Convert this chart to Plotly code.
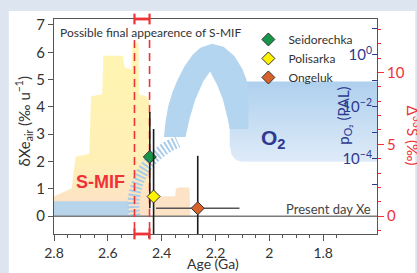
import plotly.graph_objects as go

# ---------------- data ----------------
SAMPLE_NAMES = ["Seidorechka", "Polisarka", "Ongeluk"]
SAMPLE_AGE_GA = [2.444, 2.430, 2.266]
SAMPLE_DXE = [2.17, 0.72, 0.29]
SAMPLE_DXE_ERR_PLUS = [1.64, 2.47, 1.92]
SAMPLE_DXE_ERR_MINUS = [1.88, 2.47, 1.92]
SAMPLE_AGE_ERR = [0.0, 0.0, 0.155]
SAMPLE_COLORS = ["#17964a", "#fff200", "#d8632a"]

SMIF_LAST_AGE = [2.501, 2.445]      # window of possible final S-MIF appearance
SMIF_DASH_TOP = 6.45                # dXe units

# S-MIF envelope (Age Ga, D33S permil)
SMIF_ENV_AGE = [2.800, 2.800, 2.734, 2.720, 2.669, 2.662, 2.621, 2.617, 2.545,
                2.537, 2.512, 2.508, 2.486, 2.484, 2.457, 2.447, 2.443, 2.443]
SMIF_ENV_D33S = [0.0, 1.38, 1.93, 4.14, 4.34, 8.34, 8.48, 11.17, 11.17,
                 10.34, 10.21, 12.07, 12.07, 8.48, 8.34, 8.00, 7.60, 0.0]
SMIF_TAIL_AGE = [2.432, 2.432, 2.424, 2.350, 2.347, 2.338, 2.297, 2.293]
SMIF_TAIL_D33S = [0.0, 1.10, 1.38, 1.38, 1.90, 2.00, 2.00, 0.0]

# Oxygen schematic (Age Ga, log10 pO2 PAL)
O2_LOW_AGE = [2.800, 2.523, 2.523, 2.800]
O2_LOW_LOG = [-6.21, -6.21, -5.64, -5.64]
O2_RISE_AGE = [2.5009, 2.5046, 2.5009, 2.4900, 2.4717, 2.4462, 2.4134, 2.3769, 2.3404]
O2_RISE_LOG = [-6.21, -5.79, -5.37, -4.95, -4.53, -4.15, -3.81, -3.54, -3.35]
O2_ARCH_AGE = [2.3915, 2.3860, 2.3760, 2.3600, 2.3404, 2.3150, 2.2850, 2.2565,
               2.2128, 2.1700, 2.1300, 2.1000, 2.0851, 2.0778, 2.0778,
               2.1471, 2.1544, 2.1727, 2.1945, 2.2201, 2.2456, 2.2748, 2.2967, 2.3113]
O2_ARCH_LOG = [-3.162, -2.60, -2.00, -1.45, -0.952, -0.45, 0.0, 0.267,
               0.419, 0.30, -0.05, -0.55, -0.952, -1.35, -2.857,
               -2.857, -2.476, -1.714, -1.143, -0.648, -1.029, -1.714, -2.476, -3.162]
O2_PLAT_AGE = [2.1471, 1.600, 1.600, 2.1034, 2.125, 2.140, 2.1471]
O2_PLAT_LOG = [-1.03, -1.03, -4.114, -4.114, -4.05, -3.85, -3.50]

PRESENT_DAY_XE = 0.0

X_RANGE = [2.8, 1.6]
DXE_RANGE = [-0.653, 7.218]
D33S_RANGE = [-1.241, 13.72]
LOGO2_RANGE = [-6.895, 1.371]
PO2_TICKVALS = [10, 1, 0.1, 0.01, 1e-3, 1e-4, 1e-5]
PO2_TICKTEXT = ["", "10<sup>0</sup>", "", "10<sup>\u22122</sup>", "", "10<sup>\u22124</sup>", ""]

# ---------------- styling ----------------
W, H = 417, 273
ML, MR, MT, MB = 54, 34, 19, 37
PW, PH = W - ML - MR, H - MT - MB
FONT = "Lato"
GREY = "#333333"
AX = "#555555"
RED = "#ee3338"
BLUE = "#2e3a8f"
LIGHTBLUE = "#b4d5ef"
FRAME = "#dde5f1"


def px(x):
    return (x - ML) / PW


def py(y):
    return (H - MB - y) / PH


fig = go.Figure()

grad = dict(type="vertical", start=0, stop=12.07,
            colorscale=[[0, "#fde0c8"], [0.14, "#fde5c2"], [0.32, "#fff0b6"], [1, "#fff5b0"]])

# S-MIF record (base axis y = D33S)
fig.add_trace(go.Scatter(x=SMIF_ENV_AGE, y=SMIF_ENV_D33S, mode="lines", fill="toself",
                         line=dict(width=0), fillgradient=grad, yaxis="y",
                         hoverinfo="skip", showlegend=False))
fig.add_trace(go.Scatter(x=SMIF_TAIL_AGE, y=SMIF_TAIL_D33S, mode="lines", fill="toself",
                         line=dict(width=0), fillcolor="#fde3c6", yaxis="y",
                         hoverinfo="skip", showlegend=False))

# Oxygen schematic (y2 = pO2 log axis)
fig.add_trace(go.Scatter(x=O2_PLAT_AGE, y=[10 ** v for v in O2_PLAT_LOG], mode="lines",
                         fill="toself", line=dict(width=0),
                         fillgradient=dict(type="vertical",
                                           colorscale=[[0, "#dfebf8"], [1, "#aed0ee"]]),
                         yaxis="y2", hoverinfo="skip", showlegend=False))
fig.add_trace(go.Scatter(x=O2_ARCH_AGE, y=[10 ** v for v in O2_ARCH_LOG], mode="lines",
                         fill="toself", line=dict(width=0), fillcolor=LIGHTBLUE,
                         yaxis="y2", hoverinfo="skip", showlegend=False))
fig.add_trace(go.Scatter(x=O2_LOW_AGE, y=[10 ** v for v in O2_LOW_LOG], mode="lines",
                         fill="toself", line=dict(width=0), fillcolor="#b7d4ea",
                         yaxis="y2", hoverinfo="skip", showlegend=False))
fig.add_trace(go.Scatter(x=O2_RISE_AGE, y=[10 ** v for v in O2_RISE_LOG], mode="lines",
                         line=dict(width=12, color="#abcce9", dash="2px,2px", shape="spline"),
                         yaxis="y2", hoverinfo="skip", showlegend=False))

# dXe layer (y3)
fig.add_trace(go.Scatter(x=X_RANGE, y=[PRESENT_DAY_XE, PRESENT_DAY_XE], mode="lines",
                         line=dict(color="#7a7a7a", width=1.5), yaxis="y3",
                         hoverinfo="skip", showlegend=False))
for a in SMIF_LAST_AGE:
    fig.add_trace(go.Scatter(x=[a, a], y=[SMIF_DASH_TOP, DXE_RANGE[0]], mode="lines",
                             line=dict(color=RED, width=1.6, dash="8px,5px"), yaxis="y3",
                             hoverinfo="skip", showlegend=False))

for i, name in enumerate(SAMPLE_NAMES):
    ex = None
    if SAMPLE_AGE_ERR[i] > 0:
        ex = dict(type="data", array=[SAMPLE_AGE_ERR[i]], color="#555555",
                  thickness=1.6, width=0)
    fig.add_trace(go.Scatter(
        x=[SAMPLE_AGE_GA[i]], y=[SAMPLE_DXE[i]], mode="markers", name=name, yaxis="y3",
        marker=dict(symbol="diamond", size=10, color=SAMPLE_COLORS[i],
                    line=dict(color="#333333", width=1)),
        error_y=dict(type="data", symmetric=False, array=[SAMPLE_DXE_ERR_PLUS[i]],
                     arrayminus=[SAMPLE_DXE_ERR_MINUS[i]], color="#1a1a1a",
                     thickness=1.6, width=0),
        error_x=ex, cliponaxis=True))

# white panel + red range bars on top and bottom axes
shapes = [dict(type="rect", xref="paper", yref="paper", x0=px(8), x1=px(W + 5),
               y0=py(H + 5), y1=py(11), fillcolor="white", line=dict(width=0), layer="below")]
for yp in (1.0, 0.0):
    shapes.append(dict(type="line", xref="x", yref="paper", x0=SMIF_LAST_AGE[0],
                       x1=SMIF_LAST_AGE[1], y0=yp, y1=yp, line=dict(color=RED, width=2.8)))
    for a in SMIF_LAST_AGE:
        shapes.append(dict(type="line", xref="x", yref="paper", x0=a, x1=a,
                           y0=yp - 0.025, y1=yp + 0.025, line=dict(color=RED, width=2.2)))

ann = [
    dict(text="Possible final appearence of S-MIF", x=px(58), y=py(33), xanchor="left",
         yanchor="middle", font=dict(size=12, color=GREY)),
    dict(text="<b>S-MIF</b>", x=px(101), y=py(184), font=dict(size=18, color=RED,
                                                             family="Liberation Sans")),
    dict(text="<b>O<sub>2</sub></b>", x=px(278), y=py(140),
         font=dict(size=21, color=BLUE, family="Liberation Sans")),
    dict(text="Present day Xe", x=px(379), y=py(211), xanchor="right", yanchor="middle",
         font=dict(size=13, color="#444444")),
    dict(text="p<sub>O\u2082</sub> (PAL)", x=px(349), y=py(117), textangle=-90,
         font=dict(size=15, color=BLUE)),
    dict(text="\u0394<sup>33</sup>S (\u2030)", x=px(420), y=py(137), textangle=90,
         font=dict(size=15, color=RED)),
    dict(text="\u03b4Xe<sub>air</sub> (\u2030 u<sup>\u22121</sup>)", x=px(23), y=py(122),
         textangle=-90, font=dict(size=15, color=GREY)),
    dict(text="Age (Ga)", x=px(216), y=py(266), font=dict(size=14, color=GREY)),
]
for a in ann:
    a.setdefault("xanchor", "center")
    a.setdefault("yanchor", "middle")
    a.update(xref="paper", yref="paper", showarrow=False)

fig.update_layout(
    width=W, height=H, margin=dict(l=ML, r=MR, t=MT, b=MB),
    paper_bgcolor=FRAME, plot_bgcolor="rgba(0,0,0,0)",
    font=dict(family=FONT, color=GREY),
    shapes=shapes, annotations=ann,
    xaxis=dict(range=X_RANGE, tick0=1.6, dtick=0.2, ticks="outside", ticklen=6,
               tickcolor=AX, showline=True, linecolor=AX, mirror=True, showgrid=False,
               zeroline=False, tickfont=dict(size=14, color=GREY),
               minor=dict(dtick=0.05, ticks="outside", ticklen=3, tickcolor=AX)),
    yaxis=dict(range=D33S_RANGE, side="right", anchor="x", tick0=0, dtick=5,
               ticks="outside", ticklen=6, tickcolor=RED, showline=True, linecolor=AX,
               showgrid=False, zeroline=False, tickfont=dict(size=15, color=RED),
               minor=dict(dtick=1, ticks="outside", ticklen=3, tickcolor=RED)),
    yaxis2=dict(type="log", range=LOGO2_RANGE, overlaying="y", side="right", anchor="x",
                tickmode="array", tickvals=PO2_TICKVALS, ticktext=PO2_TICKTEXT,
                ticks="inside", ticklen=5, tickcolor=BLUE, ticklabelposition="inside",
                showline=False, showgrid=False, zeroline=False,
                tickfont=dict(size=15, color=BLUE)),
    yaxis3=dict(range=DXE_RANGE, overlaying="y", side="left", anchor="x", tick0=0, dtick=1,
                ticks="outside", ticklen=5, tickcolor=AX, showline=True, linecolor=AX,
                showgrid=False, zeroline=False, tickfont=dict(size=15, color=GREY)),
    legend=dict(x=px(252), y=py(25), xref="paper", yref="paper", xanchor="left",
                yanchor="top", bgcolor="rgba(255,255,255,0)", borderwidth=0,
                font=dict(size=12, color=GREY), itemwidth=30, tracegroupgap=0),
    showlegend=True,
)

fig.write_html(
    "out.html",
    config={"displayModeBar": False},
    post_script="document.body.style.margin='0px';"
                "document.body.style.background='" + FRAME + "';",
)
